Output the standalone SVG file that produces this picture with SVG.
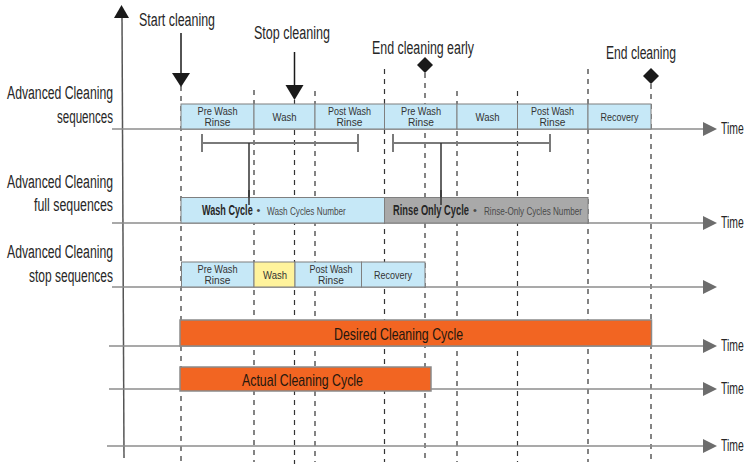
<svg xmlns="http://www.w3.org/2000/svg" width="746" height="466" viewBox="0 0 746 466">
<defs>
<style>
text{font-family:"Liberation Sans Narrow","Liberation Sans",Arial,sans-serif;fill:#262626}
.lbl{font-size:18px;text-anchor:end}
.ev{font-size:18px}
.time{font-size:16px}
.cell{font-size:11px;text-anchor:middle;fill:#333}
.axis{stroke:#8c8c8c;stroke-width:1.5;fill:none}
.dash{stroke:#333;stroke-width:1.2;stroke-dasharray:5 5;fill:none}
.blue{fill:#c6e8f7;stroke:#7f7f7f;stroke-width:1}
.yellow{fill:#fff39c;stroke:#7f7f7f;stroke-width:1}
.grey{fill:#a9a9a9;stroke:#7f7f7f;stroke-width:1}
.orange{fill:#f26522;stroke:#8a8a8a;stroke-width:1.5}
.head{fill:#6d6d6d}
.brk{stroke:#7a7a7a;stroke-width:2;fill:none}
.stem{stroke:#333;stroke-width:1.5;fill:none}
.bar{font-size:17px;text-anchor:middle;fill:#24170e}
.big{font-size:14px;font-weight:bold;fill:#262626}
.small{font-size:11px;fill:#4a4a4a}
</style>
</defs>

<g id="dashed-guides">
<line class="dash" x1="181" y1="86" x2="181" y2="462"/>
<line class="dash" x1="254" y1="90" x2="254" y2="462"/>
<line class="dash" x1="294.5" y1="100" x2="294.5" y2="464"/>
<line class="dash" x1="315" y1="91" x2="315" y2="462"/>
<line class="dash" x1="384.5" y1="69" x2="384.5" y2="462"/>
<line class="dash" x1="425" y1="73" x2="425" y2="462"/>
<line class="dash" x1="457" y1="91" x2="457" y2="462"/>
<line class="dash" x1="517.5" y1="91" x2="517.5" y2="462"/>
<line class="dash" x1="588" y1="69" x2="588" y2="462"/>
<line class="dash" x1="651" y1="84" x2="651" y2="464"/>
</g>

<g id="connectors">
<line class="axis" x1="122" y1="15" x2="124" y2="458" style="stroke:#555"/>
<polygon points="121.5,5 114,18 129,18" fill="#1a1a1a"/>
<line class="axis" x1="112" y1="129" x2="705" y2="129"/>
<polygon class="head" points="703,122 717,129 703,136"/>
<line class="axis" x1="112" y1="223" x2="705" y2="223"/>
<polygon class="head" points="703,216 717,223 703,230"/>
<line class="axis" x1="112" y1="287" x2="705" y2="287"/>
<polygon class="head" points="703,280 717,287 703,294"/>
<line class="axis" x1="109" y1="346" x2="705" y2="346"/>
<polygon class="head" points="703,339 717,346 703,353"/>
<line class="axis" x1="109" y1="389" x2="705" y2="389"/>
<polygon class="head" points="703,382 717,389 703,396"/>
<line class="axis" x1="107" y1="446" x2="705" y2="446"/>
<polygon class="head" points="703,439 717,446 703,453"/>
<line x1="181" y1="33" x2="181" y2="75" stroke="#1a1a1a" stroke-width="1.5"/>
<polygon points="172,73 190,73 181,87" fill="#1a1a1a"/>
<line x1="294.5" y1="52" x2="294.5" y2="87" stroke="#1a1a1a" stroke-width="1.5"/>
<polygon points="285.5,85 303.5,85 294.5,100" fill="#1a1a1a"/>
<polygon points="425,57 433,65 425,73 417,65" fill="#1a1a1a"/>
<polygon points="651,68 659,76 651,84 643,76" fill="#1a1a1a"/>
<path class="brk" d="M202,143H358M202,134V152M358,134V152"/>
<path class="brk" d="M393,143H550M393,134V152M550,134V152"/>
<line class="stem" x1="249" y1="143" x2="249" y2="205"/>
<line class="stem" x1="441" y1="143" x2="441" y2="205"/>
</g>

<g id="events">
<text class="ev" x="139" y="26" textLength="76" lengthAdjust="spacingAndGlyphs">Start cleaning</text>
<text class="ev" x="254" y="39" textLength="76" lengthAdjust="spacingAndGlyphs">Stop cleaning</text>
<text class="ev" x="372" y="54" textLength="102" lengthAdjust="spacingAndGlyphs">End cleaning early</text>
<text class="ev" x="606" y="59" textLength="70" lengthAdjust="spacingAndGlyphs">End cleaning</text>
</g>

<g id="row-labels">
<text class="lbl" x="113" y="99" textLength="106" lengthAdjust="spacingAndGlyphs">Advanced Cleaning</text>
<text class="lbl" x="113" y="123" textLength="56" lengthAdjust="spacingAndGlyphs">sequences</text>
<text class="lbl" x="113" y="188" textLength="106" lengthAdjust="spacingAndGlyphs">Advanced Cleaning</text>
<text class="lbl" x="113" y="211" textLength="79" lengthAdjust="spacingAndGlyphs">full sequences</text>
<text class="lbl" x="113" y="258" textLength="106" lengthAdjust="spacingAndGlyphs">Advanced Cleaning</text>
<text class="lbl" x="113" y="282" textLength="84" lengthAdjust="spacingAndGlyphs">stop sequences</text>
</g>

<g id="time-labels">
<text class="time" transform="translate(721,134) scale(0.65,1)">Time</text>
<text class="time" transform="translate(721,228) scale(0.65,1)">Time</text>
<text class="time" transform="translate(721,351) scale(0.65,1)">Time</text>
<text class="time" transform="translate(721,394) scale(0.65,1)">Time</text>
<text class="time" transform="translate(721,451) scale(0.65,1)">Time</text>
</g>

<g id="row1-sequences">
<rect class="blue" x="181" y="104" width="73" height="25"/>
<rect class="blue" x="254" y="104" width="61" height="25"/>
<rect class="blue" x="315" y="104" width="69.5" height="25"/>
<rect class="blue" x="384.5" y="104" width="72.5" height="25"/>
<rect class="blue" x="457" y="104" width="60.5" height="25"/>
<rect class="blue" x="517.5" y="104" width="70.5" height="25"/>
<rect class="blue" x="588" y="104" width="63" height="25"/>
<text class="cell" x="217.5" y="115" textLength="40" lengthAdjust="spacingAndGlyphs">Pre Wash</text>
<text class="cell" x="217.5" y="126" textLength="26" lengthAdjust="spacingAndGlyphs">Rinse</text>
<text class="cell" x="284.5" y="121" textLength="24" lengthAdjust="spacingAndGlyphs">Wash</text>
<text class="cell" x="349.5" y="115" textLength="43" lengthAdjust="spacingAndGlyphs">Post Wash</text>
<text class="cell" x="349.5" y="126" textLength="26" lengthAdjust="spacingAndGlyphs">Rinse</text>
<text class="cell" x="421" y="115" textLength="40" lengthAdjust="spacingAndGlyphs">Pre Wash</text>
<text class="cell" x="421" y="126" textLength="26" lengthAdjust="spacingAndGlyphs">Rinse</text>
<text class="cell" x="487.5" y="121" textLength="24" lengthAdjust="spacingAndGlyphs">Wash</text>
<text class="cell" x="552.5" y="115" textLength="43" lengthAdjust="spacingAndGlyphs">Post Wash</text>
<text class="cell" x="552.5" y="126" textLength="26" lengthAdjust="spacingAndGlyphs">Rinse</text>
<text class="cell" x="619.5" y="121" textLength="38" lengthAdjust="spacingAndGlyphs">Recovery</text>
</g>

<g id="row2-full-sequences">
<rect class="blue" x="181" y="197.5" width="203.5" height="25.5"/>
<rect class="grey" x="384.5" y="197.5" width="203.5" height="25.5"/>
<line class="stem" x1="249" y1="190" x2="249" y2="205"/>
<line class="stem" x1="441" y1="190" x2="441" y2="205"/>
<text class="big" transform="translate(202,215) scale(0.65,1)">Wash Cycle</text>
<text class="small" x="256.5" y="214">•</text>
<text class="small" transform="translate(267,215) scale(0.745,1)">Wash Cycles Number</text>
<text class="big" transform="translate(393,215) scale(0.664,1)">Rinse Only Cycle</text>
<text class="small" x="473" y="214">•</text>
<text class="small" transform="translate(484,215) scale(0.739,1)">Rinse-Only Cycles Number</text>
</g>

<g id="row3-stop-sequences">
<rect class="blue" x="181.5" y="262" width="72.5" height="25"/>
<rect class="yellow" x="254" y="262" width="41" height="25"/>
<rect class="blue" x="295" y="262" width="66.5" height="25"/>
<rect class="blue" x="361.5" y="262" width="63.5" height="25"/>
<text class="cell" x="217.5" y="273" textLength="40" lengthAdjust="spacingAndGlyphs">Pre Wash</text>
<text class="cell" x="217.5" y="284" textLength="26" lengthAdjust="spacingAndGlyphs">Rinse</text>
<text class="cell" x="275" y="279" textLength="24" lengthAdjust="spacingAndGlyphs">Wash</text>
<text class="cell" x="331" y="273" textLength="43" lengthAdjust="spacingAndGlyphs">Post Wash</text>
<text class="cell" x="331" y="284" textLength="26" lengthAdjust="spacingAndGlyphs">Rinse</text>
<text class="cell" x="393" y="279" textLength="38" lengthAdjust="spacingAndGlyphs">Recovery</text>
</g>

<g id="desired-cycle">
<rect class="orange" x="180" y="320" width="471.5" height="26"/>
<text class="bar" x="398.5" y="340" textLength="129" lengthAdjust="spacingAndGlyphs">Desired Cleaning Cycle</text>
</g>

<g id="actual-cycle">
<rect class="orange" x="180" y="367" width="251" height="24"/>
<text class="bar" x="302.5" y="386" textLength="121" lengthAdjust="spacingAndGlyphs">Actual Cleaning Cycle</text>
</g>
</svg>
